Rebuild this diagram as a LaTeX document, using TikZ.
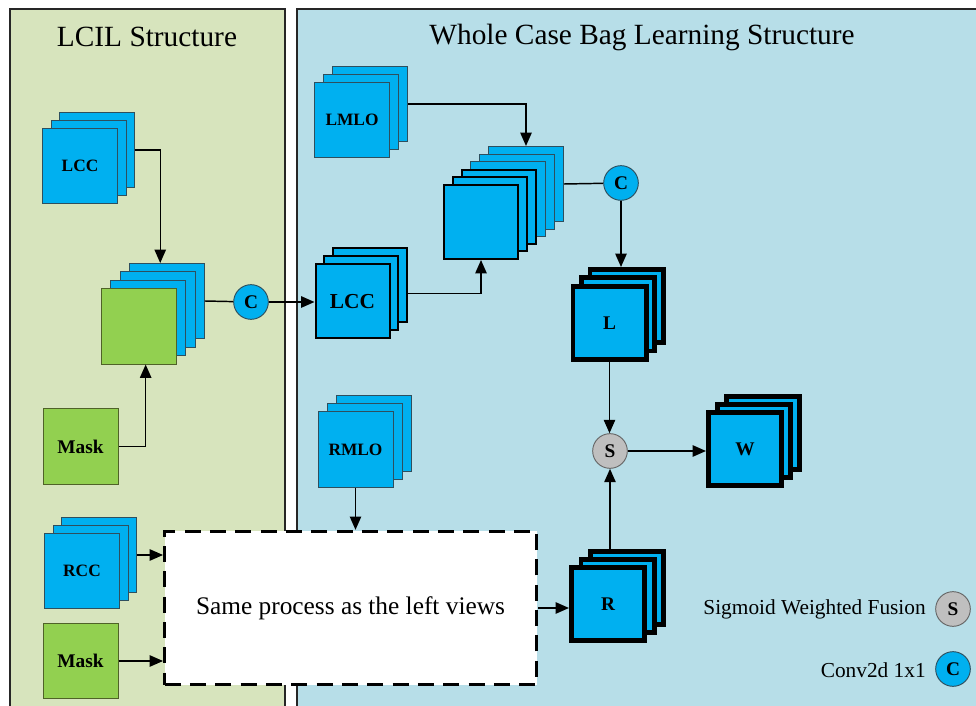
\documentclass[tikz,border=0pt]{standalone}
\usepackage{fontspec}
\setmainfont{Liberation Serif}
\usetikzlibrary{arrows.meta,calc}
\definecolor{panelgreen}{HTML}{D7E4BD}
\definecolor{panelblue}{HTML}{B7DEE8}
\definecolor{mapblue}{HTML}{00B0F0}
\definecolor{maskgreen}{HTML}{92D050}
\definecolor{fusegray}{HTML}{BFBFBF}
\definecolor{edgegray}{HTML}{2E4F5E}
\definecolor{edgegreen}{HTML}{4F6228}

\begin{document}
\begin{tikzpicture}[x=0.75pt,y=-0.75pt,
  panel/.style={draw=black!85,line width=1.5pt},
  title/.style={font=\fontsize{22}{26}\selectfont},
  bluemap/.style={draw=edgegray,line width=0.7pt,fill=mapblue,minimum size=56.3pt,inner sep=0pt,font=\fontsize{13}{15}\selectfont\bfseries},
  bluemapb/.style={bluemap,draw=black,line width=1.5pt,minimum size=55.5pt,font=\fontsize{16}{18}\selectfont\bfseries},
  featmap/.style={bluemap,draw=black,line width=3.5pt,minimum size=55pt,font=\fontsize{14.5}{16}\selectfont\bfseries},
  maskmap/.style={bluemap,draw=edgegreen,fill=maskgreen,font=\fontsize{14.5}{16}\selectfont\bfseries},
  convc/.style={circle,draw=edgegray,line width=0.7pt,fill=mapblue,minimum size=26pt,inner sep=0pt,font=\fontsize{14.5}{16}\selectfont\bfseries},
  fusec/.style={convc,fill=fusegray,draw=black!60},
  procbox/.style={draw=black,fill=white,line width=2.2pt,dash pattern=on 12pt off 7pt,minimum width=279pt,minimum height=115pt,font=\fontsize{19}{22}\selectfont},
  legtext/.style={inner sep=0pt,anchor=east,font=\fontsize{16}{19}\selectfont},
  line/.style={line width=1.1pt},
  conn/.style={line,-{Triangle[length=10pt,width=8.5pt]}}]
\clip (0,0) rectangle (976,706);
\fill[white] (0,0) rectangle (976,706);
% panels
\draw[panel,fill=panelgreen] (10,9) rectangle (285,730);
\draw[panel,fill=panelblue] (297,9) rectangle (1000,730);
\node[title] (ltitle) at (147,37) {LCIL Structure};
\node[title] (rtitle) at (642,37) {Whole Case Bag Learning Structure};

% LCIL structure
\foreach \k in {2,1}
  \node[bluemap] (lccl\k) at ({80+8.5*\k},{166-8*\k}) {};
\node[bluemap] (lccl) at (80,166) {LCC};
\foreach \k in {3,2,1}
  \node[bluemap] (mix\k) at ({139+9.3*\k},{326.5-8.5*\k}) {};
\node[maskmap] (mix) at (139,326.5) {};
\node[maskmap] (mask) at (80.5,446.5) {Mask};
\node[convc] (c1) at (251,302) {C};
\foreach \k in {2,1}
  \node[bluemap] (rcc\k) at ({82+8.5*\k},{571-8*\k}) {};
\node[bluemap] (rcc) at (82,571) {RCC};
\node[maskmap] (masktwo) at (80.5,661) {Mask};

% whole case bag
\foreach \k in {2,1}
  \node[bluemap] (lmlo\k) at ({352+9*\k},{120-8*\k}) {};
\node[bluemap] (lmlo) at (352,120) {LMLO};
\foreach \k in {2,1}
  \node[bluemapb] (lccr\k) at ({352.5+8.5*\k},{301.5-8*\k}) {};
\node[bluemapb] (lccr) at (352.5,301.5) {LCC};
\foreach \k in {5,4,3}
  \node[bluemap] (six\k) at ({481+9*\k},{222-7.6*\k}) {};
\foreach \k in {2,1}
  \node[bluemapb] (six\k) at ({481+9*\k},{222-7.6*\k}) {};
\node[bluemapb] (six) at (481,222) {};
\node[convc] (c2) at (621,183) {C};
\foreach \k in {2,1}
  \node[featmap] (l\k) at ({609.5+8.5*\k},{323-8.5*\k}) {};
\node[featmap] (l) at (609.5,323) {L};
\node[fusec] (s) at (610,451) {S};
\foreach \k in {2,1}
  \node[featmap] (w\k) at ({745+9*\k},{449-8*\k}) {};
\node[featmap] (w) at (745,449) {W};
\foreach \k in {2,1}
  \node[bluemap] (rmlo\k) at ({355.5+9*\k},{449.5-8*\k}) {};
\node[bluemap] (rmlo) at (355.5,449.5) {RMLO};
\foreach \k in {2,1}
  \node[featmap] (r\k) at ({608+9.5*\k},{604-8*\k}) {};
\node[featmap] (r) at (608,604) {R};
\node[procbox] (box) at (350.5,608) {Same process as the left views};

% legend
\node[fusec] (sleg) at (953,609) {S};
\node[legtext] (sfuse) at (926,609) {Sigmoid Weighted Fusion};
\node[convc] (cleg) at (953,669) {C};
\node[legtext] (cconv) at (926,670) {Conv2d 1x1};

% connectors
\draw[conn] (lccl2.east) -| ([xshift=-5pt]mix3.north);
\draw[conn] (mask.east) -| ([xshift=5pt]mix.south);
\draw[line] (mix3.east) -- (c1);
\draw[conn] (c1) -- (c1 -| lccr.west);
\draw[conn] (lmlo2.east) -| (six5.north);
\draw[conn] ([yshift=-6pt]lccr2.east) -| (six.south);
\draw[line] (six5.east) -- (c2);
\draw[conn] (c2) -- (c2 |- l2.north);
\draw[conn] (l.south) -- (l.south |- s.north);
\draw[conn] (s) -- (s -| w.west);
\draw[conn] (s |- r2.north) -- (s);
\draw[conn] (box.east) -- (box.east -| r.west);
\draw[conn] (rcc2.east) -- (rcc2.east -| box.west);
\draw[conn] (masktwo.east) -- (masktwo.east -| box.west);
\draw[conn] (rmlo.south) -- (rmlo.south |- box.north);
\end{tikzpicture}
\end{document}
